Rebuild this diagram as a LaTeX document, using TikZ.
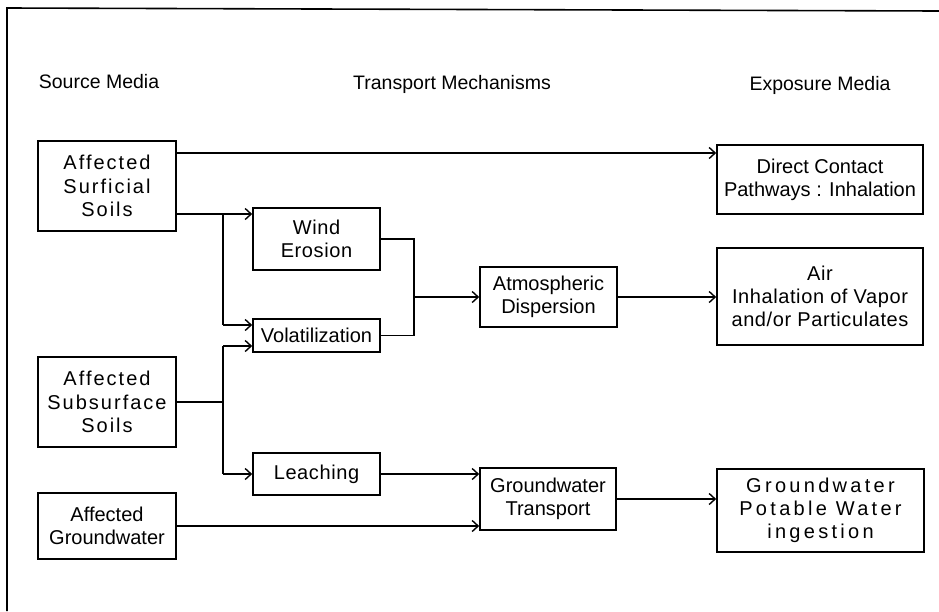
\documentclass[tikz,border=0pt]{standalone}
\usepackage{fontspec}
\setmainfont{Liberation Sans}
\newfontfamily\wideA[LetterSpace=10]{Liberation Sans}
\newfontfamily\wideB[LetterSpace=3]{Liberation Sans}
\newfontfamily\wideC[LetterSpace=16.5]{Liberation Sans}
\usetikzlibrary{arrows.meta}
\begin{document}
\begin{tikzpicture}[x=1pt,y=-1pt,
  box/.style={draw, line width=1.6pt, inner sep=0pt, align=center, font=\fontsize{20}{23.3}\selectfont},
  wa/.style={font=\wideA\fontsize{20}{23.3}\selectfont},
  wb/.style={font=\wideB\fontsize{20}{23.3}\selectfont},
  wc/.style={font=\wideC\fontsize{20}{23.3}\selectfont},
  hdr/.style={inner sep=0pt, font=\fontsize{19.5}{23.3}\selectfont},
  conn/.style={line width=1.4pt},
  arr/.style={line width=1.4pt, -{Straight Barb[length=6pt,width=11pt,line width=1.4pt]}}]
\useasboundingbox (0,0) rectangle (939,611);
% frame
\draw[line width=1.6pt] (7,611) -- (7,8) -- (939,11);
% headers
\node[hdr] (h1) at (99,82) {Source Media};
\node[hdr] (h2) at (452,84) {Transport Mechanisms};
\node[hdr] (h3) at (820,85) {Exposure Media};
% boxes
\node[box,wa,minimum width=138,minimum height=90] (ss) at (107,186) {Affected\\Surficial\\Soils};
\node[box,wb,minimum width=127,minimum height=62] (we) at (316.5,239) {Wind\\Erosion};
\node[box,minimum width=127,minimum height=33] (vo) at (316.5,335.5) {Volatilization};
\node[box,wa,minimum width=138,minimum height=90] (sub) at (107,402) {Affected\\Subsurface\\Soils};
\node[box,wb,minimum width=127,minimum height=42] (le) at (316.5,474) {Leaching};
\node[box,minimum width=138,minimum height=66] (ag) at (107,526) {Affected\\Groundwater};
\node[box,minimum width=137,minimum height=60] (ad) at (548.5,297) {Atmospheric\\Dispersion};
\node[box,minimum width=136,minimum height=62] (gt) at (548,499) {Groundwater\\Transport};
\node[box,minimum width=206,minimum height=69] (dc) at (820,179.5) {Direct Contact\\Pathways : Inhalation};
\node[box,wb,minimum width=206,minimum height=97] (air) at (820,296.5) {Air\\Inhalation of Vapor\\and/or Particulates};
\node[box,wc,minimum width=207,minimum height=83] (pw) at (820.5,510.5) {Groundwater\\Potable Water\\ingestion};
% helper coordinates
\coordinate (s1) at ([yshift=33pt]ss.east);
\coordinate (s2) at ([yshift=-28pt]ss.east);
\coordinate (j1) at (223,214);
\coordinate (j2) at (223,325);
\coordinate (j3) at (223,346);
\coordinate (j4) at (223,474);
\coordinate (k1) at (414,239);
\coordinate (k2) at (414,335.5);
\coordinate (k3) at (414,297);
% connectors
\draw[arr] (s1) -- (s1 -| dc.west);
\draw[arr] (s2) -- (s2 -| we.west);
\draw[conn] (j1) -- (j2);
\draw[arr] (j2) -- (j2 -| vo.west);
\draw[conn] (sub.east) -- (sub.east -| j3);
\draw[conn] (j3) -- (j4);
\draw[arr] (j3) -- (j3 -| vo.west);
\draw[arr] (j4) -- (le.west);
\draw[conn] (we.east) -- (k1) -- (k2) -- (vo.east);
\draw[arr] (k3) -- (ad.west);
\draw[arr] (ad.east) -- (ad.east -| air.west);
\draw[arr] (le.east) -- (le.east -| gt.west);
\draw[arr] (ag.east) -- (ag.east -| gt.west);
\draw[arr] (gt.east) -- (gt.east -| pw.west);
\end{tikzpicture}
\end{document}
